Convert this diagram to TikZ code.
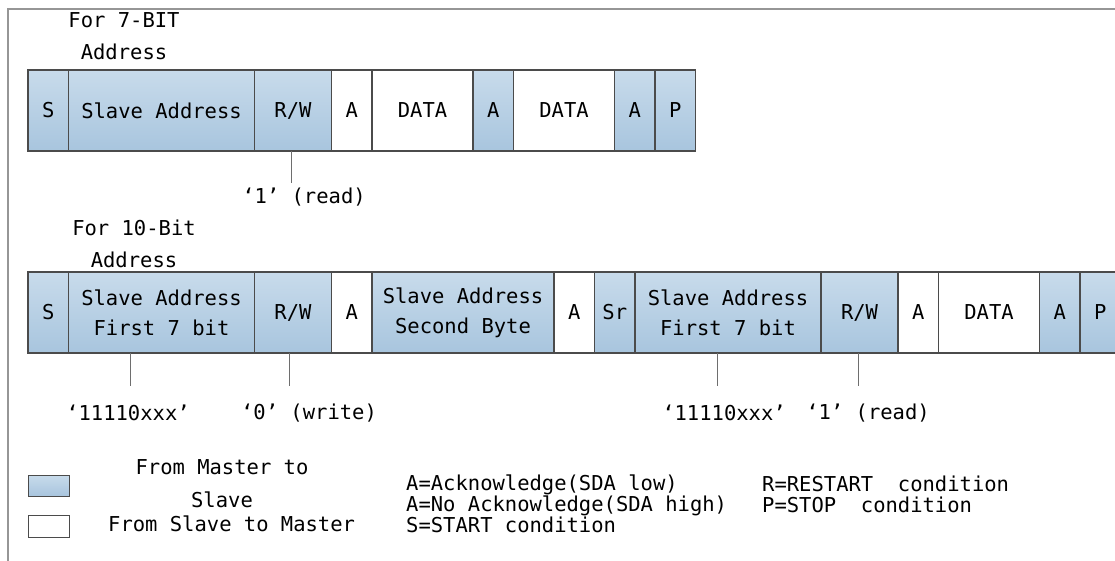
\documentclass[tikz,border=0pt]{standalone}
\usepackage{fontspec}
\setmainfont{DejaVu Sans Mono}
\definecolor{busTop}{RGB}{200,219,235}
\definecolor{busBot}{RGB}{168,197,222}
\definecolor{busLine}{RGB}{75,75,75}
\definecolor{busFrame}{RGB}{150,150,150}
\definecolor{busTick}{RGB}{110,110,110}
\usetikzlibrary{positioning}
\newcommand\busfont{\fontsize{20.5}{30}\selectfont}
\tikzset{
  cell/.style={draw=busLine,line width=1.2pt,minimum height=81pt,inner sep=0pt,
    outer sep=0pt,align=center,font=\busfont},
  mst/.style={cell,top color=busTop,bottom color=busBot},
  slv/.style={cell,fill=white},
  wS/.style={minimum width=40.5pt},
  wAddr/.style={minimum width=186pt},
  wAddrB/.style={minimum width=182pt},
  wRW/.style={minimum width=77pt},
  wData/.style={minimum width=101pt},
  tick/.style={draw=busTick,line width=0.9pt},
  lbl/.style={inner sep=0pt,font=\busfont},
  head/.style={inner sep=0pt,align=center,font=\fontsize{20.5}{32}\selectfont},
}
\begin{document}
\begin{tikzpicture}[x=1pt,y=-1pt]
  \useasboundingbox (0,0) rectangle (1115,561);
  % Frame (only top and left edges show)
  \draw[busFrame,line width=1.6pt] (8,9) rectangle (1150,600);

  % 7-bit address
  \node[head] (hd7) at (124,36) {For 7-BIT\\Address};
  \node[mst,wS,anchor=north west] (s7) at (28,70) {S};
  \node[mst,wAddr,right=0pt of s7] (addr7) {Slave Address};
  \node[mst,wRW,right=0pt of addr7] (rw7) {R/W};
  \node[slv,wS,right=0pt of rw7] (ack7a) {A};
  \node[slv,wData,right=0pt of ack7a] (data7a) {DATA};
  \node[mst,wS,right=0pt of data7a] (ack7b) {A};
  \node[slv,wData,right=0pt of ack7b] (data7b) {DATA};
  \node[mst,wS,right=0pt of data7b] (ack7c) {A};
  \node[mst,wS,right=0pt of ack7c] (p7) {P};
  \coordinate (t7) at (291,183);
  \draw[tick] (t7 |- rw7.south) -- (t7);
  \node[lbl] (rd7) at (304,197) {‘1’ (read)};

  % 10-bit address
  \node[head] (hd10) at (134,244) {For 10-Bit\\Address};
  \node[mst,wS,anchor=north west] (s10) at (28,272) {S};
  \node[mst,wAddr,right=0pt of s10] (addr10a) {Slave Address\\First 7 bit};
  \node[mst,wRW,right=0pt of addr10a] (rw10a) {R/W};
  \node[slv,wS,right=0pt of rw10a] (ack10a) {A};
  \node[mst,wAddrB,right=0pt of ack10a] (addr10b) {Slave Address\\Second Byte};
  \node[slv,wS,right=0pt of addr10b] (ack10b) {A};
  \node[mst,wS,right=0pt of ack10b] (sr10) {Sr};
  \node[mst,wAddr,right=0pt of sr10] (addr10c) {Slave Address\\First 7 bit};
  \node[mst,wRW,right=0pt of addr10c] (rw10b) {R/W};
  \node[slv,wS,right=0pt of rw10b] (ack10c) {A};
  \node[slv,wData,right=0pt of ack10c] (data10) {DATA};
  \node[mst,wS,right=0pt of data10] (ack10d) {A};
  \node[mst,wS,right=0pt of ack10d] (p10) {P};
  \coordinate (t10a) at (130,386);
  \coordinate (t10b) at (289,386);
  \coordinate (t10c) at (717,386);
  \coordinate (t10d) at (858,386);
  \draw[tick] (t10a |- addr10a.south) -- (t10a);
  \draw[tick] (t10b |- rw10a.south) -- (t10b);
  \draw[tick] (t10c |- addr10c.south) -- (t10c);
  \draw[tick] (t10d |- rw10b.south) -- (t10d);
  \node[lbl] (hi10a) at (128,413) {‘11110xxx’};
  \node[lbl] (wr10) at (309,413) {‘0’ (write)};
  \node[lbl] (hi10b) at (724,413) {‘11110xxx’};
  \node[lbl] (rd10) at (868,413) {‘1’ (read)};

  % Legend
  \node[mst,line width=0.9pt,minimum width=41pt,minimum height=21pt] (keyM) at (48.5,485.5) {};
  \node[slv,line width=0.9pt,minimum width=41pt,minimum height=22pt] (keyS) at (48.5,526) {};
  \node[head,font=\fontsize{20.5}{33}\selectfont] (txtM) at (222,483.5) {From Master to\\Slave};
  \node[lbl,anchor=west] (txtS) at (108,524) {From Slave to Master};
  \node[lbl,align=left,anchor=west,font=\fontsize{20.5}{21}\selectfont] (abbrA) at (406,504)
    {A=Acknowledge(SDA low)\\A=No Acknowledge(SDA high)\\S=START condition};
  \node[lbl,align=left,anchor=west,font=\fontsize{20.5}{21}\selectfont] (abbrB) at (762,494)
    {R=RESTART~~condition\\P=STOP~~condition};
\end{tikzpicture}
\end{document}
